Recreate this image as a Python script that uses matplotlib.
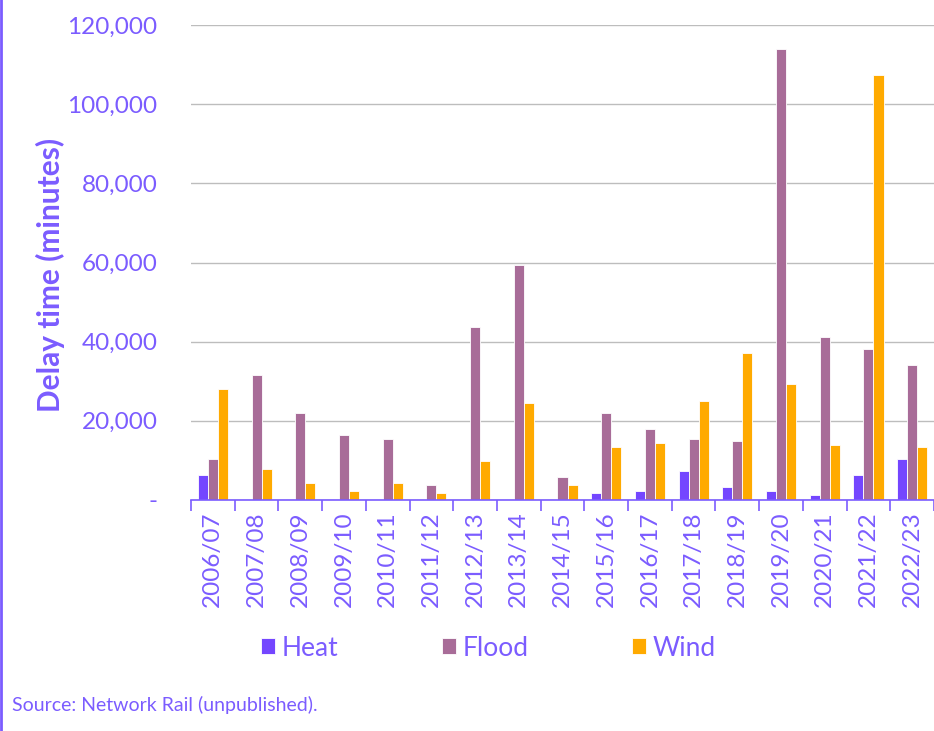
import matplotlib
matplotlib.use("Agg")
import matplotlib.pyplot as plt
import numpy as np
from matplotlib.ticker import FuncFormatter
from matplotlib.lines import Line2D

plt.rcParams['font.family'] = ['Lato', 'DejaVu Sans']

categories = ["2006/07", "2007/08", "2008/09", "2009/10", "2010/11", "2011/12",
              "2012/13", "2013/14", "2014/15", "2015/16", "2016/17", "2017/18",
              "2018/19", "2019/20", "2020/21", "2021/22", "2022/23"]
heat = [6400, 300, 300, 300, 300, 300, 0, 300, 300, 1800, 2300, 7400,
        3300, 2300, 1300, 6400, 10400]
flood = [10400, 31700, 22100, 16500, 15500, 3900, 43700, 59400, 5900, 22100,
         18000, 15500, 15000, 113900, 41300, 38200, 34200]
wind = [28100, 7900, 4400, 2300, 4400, 1800, 9900, 24600, 3900, 13500,
        14500, 25000, 37200, 29200, 14000, 107300, 13500]

series = [("Heat", heat, "#7446FF"), ("Flood", flood, "#A86C98"), ("Wind", wind, "#FFAA00")]
text_color = "#7B5CFF"

fig = plt.figure(figsize=(9.34, 7.31), dpi=100)
ax = fig.add_axes([191/934, 1 - 500/731, 1 - 191/934, (500 - 25)/731])

x = np.arange(len(categories))
w = 0.23
for i, (name, vals, col) in enumerate(series):
    ax.bar(x + (i - 1) * w, vals, width=w, color=col, edgecolor="white",
           linewidth=0.6, label=name, zorder=3)

ax.set_xlim(-0.5, len(categories) - 0.5)
ax.set_ylim(0, 120000)
ax.set_yticks(np.arange(0, 120001, 20000))
ax.yaxis.set_major_formatter(FuncFormatter(lambda v, p: "-" if v == 0 else f"{int(v):,}"))
ax.grid(axis="y", color="#BDBDBD", linewidth=1.0, zorder=0)
for s in ["top", "right", "left"]:
    ax.spines[s].set_visible(False)
ax.spines["bottom"].set_color(text_color)
ax.spines["bottom"].set_linewidth(1.2)
ax.spines["bottom"].set_zorder(4)

ax.tick_params(axis="y", length=0, labelsize=17.5, labelcolor=text_color, pad=24)
ax.set_xticks(x)
ax.set_xticklabels(categories, rotation=90, fontsize=17.5, color=text_color)
ax.tick_params(axis="x", length=0, pad=8)
ax.set_xticks(np.arange(-0.5, len(categories), 1), minor=True)
ax.tick_params(axis="x", which="minor", length=8, color=text_color, width=1.2)

ax.set_ylabel("Delay time (minutes)", fontsize=21.5, fontweight="bold", color=text_color,
              va="center", ha="center")
ax.yaxis.set_label_coords((50 - 191) / 743, (500 - 275) / 475)

leg = fig.legend(loc="center", bbox_to_anchor=(0.523, 1 - 648/731), ncol=3, frameon=False,
                 fontsize=19, handlelength=0.55, handleheight=0.55, handletextpad=0.25,
                 columnspacing=3.9)
for t in leg.get_texts():
    t.set_color(text_color)

fig.text(12/934, 1 - 705/731, "Source: Network Rail (unpublished).", fontsize=14,
         color=text_color, va="center", ha="left")

fig.add_artist(Line2D([0.001, 0.001], [0, 1], transform=fig.transFigure, color="#7B5CFF", linewidth=2))

fig.savefig("out.png", dpi=100)
